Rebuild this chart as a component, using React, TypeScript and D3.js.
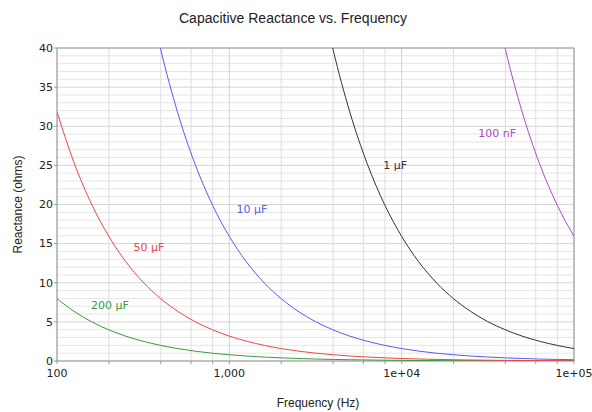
import React, { useEffect } from "react";
import * as d3 from "d3";

// Frequencies (Hz) and reactance (ohms)
const freqLow = [100, 125, 160, 200, 250, 315, 400, 500, 630, 800, 1000, 1250, 1600, 2000, 2500, 3150, 4000, 5000, 6300, 8000, 10000, 20000, 50000, 100000];
const x200uF = [7.96, 6.37, 4.97, 3.98, 3.18, 2.53, 1.99, 1.59, 1.26, 0.99, 0.8, 0.64, 0.5, 0.4, 0.32, 0.25, 0.2, 0.16, 0.13, 0.1, 0.08, 0.04, 0.016, 0.008];
const x50uF = [31.83, 25.46, 19.89, 15.92, 12.73, 10.1, 7.96, 6.37, 5.05, 3.98, 3.18, 2.55, 1.99, 1.59, 1.27, 1.01, 0.8, 0.64, 0.51, 0.4, 0.32, 0.16, 0.064, 0.032];

const freq10uF = [390, 400, 500, 630, 800, 1000, 1250, 1600, 2000, 2500, 3150, 4000, 5000, 6300, 8000, 10000, 12500, 16000, 20000, 25000, 31500, 40000, 50000, 63000, 80000, 100000];
const x10uF = [40.81, 39.79, 31.83, 25.26, 19.89, 15.92, 12.73, 9.95, 7.96, 6.37, 5.05, 3.98, 3.18, 2.53, 1.99, 1.59, 1.27, 0.99, 0.8, 0.64, 0.51, 0.4, 0.32, 0.25, 0.2, 0.16];

const freq1uF = [3900, 4000, 5000, 6300, 8000, 10000, 12500, 16000, 20000, 25000, 31500, 40000, 50000, 63000, 80000, 100000];
const x1uF = [40.81, 39.79, 31.83, 25.26, 19.89, 15.92, 12.73, 9.95, 7.96, 6.37, 5.05, 3.98, 3.18, 2.53, 1.99, 1.59];

const freq100nF = [39000, 40000, 50000, 63000, 80000, 100000];
const x100nF = [40.81, 39.79, 31.83, 25.26, 19.89, 15.92];

const seriesNames = ["200 µF", "50 µF", "10 µF", "1 µF", "100 nF"];
const seriesColors = ["#3c9a3c", "#e84848", "#5a5af0", "#333333", "#b048c8"];
const labelFreq = [203, 342, 1354, 9157, 35800];
const labelOhms = [7.2, 14.5, 19.4, 25.0, 29.1];

const xTickValues = [100, 1000, 10000, 100000];
const xTickLabels = ["100", "1,000", "1e+04", "1e+05"];
const yTickValues = [0, 5, 10, 15, 20, 25, 30, 35, 40];

const W = 592, H = 412;
const M = { left: 57, right: 18, top: 48, bottom: 51 };

export default function App() {
  useEffect(() => {
    document.body.style.margin = "0";
  }, []);

  const x = d3.scaleLog().domain([100, 100000]).range([M.left, W - M.right]);
  const y = d3.scaleLinear().domain([0, 40]).range([H - M.bottom, M.top]);

  const minorX: number[] = [];
  [100, 1000, 10000].forEach((d) => [2, 4, 6, 8].forEach((m) => minorX.push(d * m)));
  const minorY = d3.range(0, 41, 1).filter((v) => v % 5 !== 0);

  const series = [
    { f: freqLow, v: x200uF },
    { f: freqLow, v: x50uF },
    { f: freq10uF, v: x10uF },
    { f: freq1uF, v: x1uF },
    { f: freq100nF, v: x100nF },
  ];

  const line = d3
    .line<[number, number]>()
    .x((d) => x(d[0]))
    .y((d) => y(d[1]))
    .curve(d3.curveMonotoneX);

  const x0 = M.left, x1 = W - M.right, y0 = H - M.bottom, y1 = M.top;

  return (
    <svg width={W} height={H} style={{ display: "block", background: "#fff" }}>
      <defs>
        <clipPath id="plot">
          <rect x={x0} y={y1} width={x1 - x0} height={y0 - y1} />
        </clipPath>
      </defs>
      <text x={293} y={23} textAnchor="middle" fontFamily="Liberation Sans, Arial, sans-serif" fontSize={14} fill="#222">
        Capacitive Reactance vs. Frequency
      </text>
      {/* grid */}
      {minorY.map((v) => (
        <line key={"my" + v} x1={x0} x2={x1} y1={y(v)} y2={y(v)} stroke="#e6e6e6" strokeWidth={1} />
      ))}
      {yTickValues.map((v) => (
        <line key={"gy" + v} x1={x0} x2={x1} y1={y(v)} y2={y(v)} stroke="#d4d4d4" strokeWidth={1} />
      ))}
      {minorX.map((v) => (
        <line key={"mx" + v} x1={x(v)} x2={x(v)} y1={y1} y2={y0} stroke="#dedede" strokeWidth={1} />
      ))}
      {xTickValues.map((v) => (
        <line key={"gx" + v} x1={x(v)} x2={x(v)} y1={y1} y2={y0} stroke="#d0d0d0" strokeWidth={1} />
      ))}
      {/* frame */}
      <rect x={x0} y={y1} width={x1 - x0} height={y0 - y1} fill="none" stroke="#999" strokeWidth={1} />
      {/* ticks */}
      {[...xTickValues, ...minorX].map((v) => (
        <line key={"tx" + v} x1={x(v)} x2={x(v)} y1={y0} y2={y0 + 3} stroke="#999" />
      ))}
      {yTickValues.map((v) => (
        <line key={"ty" + v} x1={x0 - 3} x2={x0} y1={y(v)} y2={y(v)} stroke="#999" />
      ))}
      {/* curves */}
      <g clipPath="url(#plot)">
        {series.map((s, i) => (
          <path
            key={seriesNames[i]}
            d={line(s.f.map((f, j) => [f, s.v[j]] as [number, number])) || ""}
            fill="none"
            stroke={seriesColors[i]}
            strokeWidth={1}
          />
        ))}
      </g>
      {/* labels */}
      {seriesNames.map((n, i) => (
        <text
          key={"l" + n}
          x={x(labelFreq[i])}
          y={y(labelOhms[i])}
          dy="0.35em"
          textAnchor="middle"
          fontFamily="DejaVu Sans, Verdana, sans-serif"
          fontSize={11}
          fill={seriesColors[i]}
        >
          {n}
        </text>
      ))}
      {/* tick labels */}
      {xTickValues.map((v, i) => (
        <text key={"xl" + v} x={x(v)} y={y0 + 16} textAnchor="middle" fontFamily="DejaVu Sans, Verdana, sans-serif" fontSize={11} fill="#222">
          {xTickLabels[i]}
        </text>
      ))}
      {yTickValues.map((v) => (
        <text key={"yl" + v} x={x0 - 4} y={y(v)} dy="0.35em" textAnchor="end" fontFamily="DejaVu Sans, Verdana, sans-serif" fontSize={11} fill="#222">
          {v}
        </text>
      ))}
      <text x={318} y={407} textAnchor="middle" fontFamily="Liberation Sans, Arial, sans-serif" fontSize={12} fill="#222">
        Frequency (Hz)
      </text>
      <text
        transform={`translate(22,${(y0 + y1) / 2}) rotate(-90)`}
        textAnchor="middle"
        fontFamily="Liberation Sans, Arial, sans-serif"
        fontSize={12}
        fill="#222"
      >
        Reactance (ohms)
      </text>
    </svg>
  );
}
